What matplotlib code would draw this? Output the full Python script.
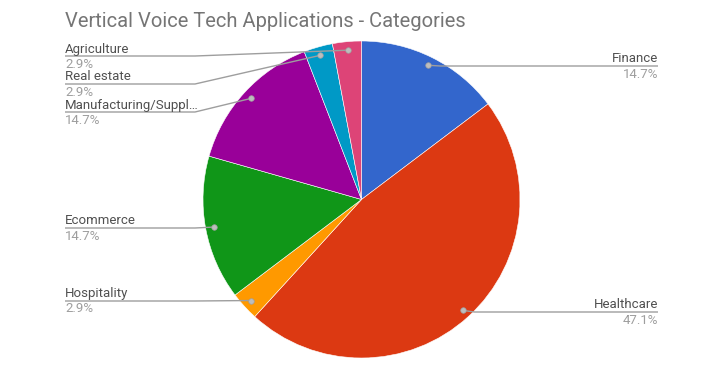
import numpy as np
import matplotlib
matplotlib.use("Agg")
import matplotlib.pyplot as plt

plt.rcParams["font.family"] = ["Roboto", "DejaVu Sans"]

# data: counts per category, clockwise from 12 o'clock
categories = ["Finance", "Healthcare", "Hospitality", "Ecommerce",
              "Manufacturing/Suppl…", "Real estate", "Agriculture"]
counts = [5, 16, 1, 5, 5, 1, 1]
colors = ["#3366cc", "#dc3912", "#ff9900", "#109618", "#990099", "#0099c6", "#dd4477"]

# label layout (pixel rows of each leader line, and which side the label sits on)
label_y = [66, 312, 301, 228, 112, 84, 56]
label_side = ["R", "R", "L", "L", "L", "L", "L"]

W, H = 712, 369
CX, CY, R = 361.5, 199.5, 158.5
TITLE_C, NAME_C, PCT_C, LINE_C = "#757575", "#505050", "#9e9e9e", "#9e9e9e"

fig = plt.figure(figsize=(W / 100, H / 100), dpi=100)
ax = fig.add_axes([0, 0, 1, 1])

# y axis is inverted (pixel rows), so counterclock=True draws clockwise on screen
wedges, _ = ax.pie(counts, colors=colors, startangle=-90, counterclock=True,
                   center=(CX, CY), radius=R,
                   wedgeprops=dict(edgecolor="white", linewidth=0.4))
ax.set_xlim(0, W)
ax.set_ylim(H, 0)
ax.set_aspect("equal")
ax.axis("off")

total = sum(counts)
for w, name, n, ly, side in zip(wedges, categories, counts, label_y, label_side):
    mid = np.deg2rad((w.theta1 + w.theta2) / 2)
    dx, dy = CX + 0.946 * R * np.cos(mid), CY + 0.946 * R * np.sin(mid)
    pct = f"{100 * n / total:.1f}%"
    if side == "L":
        tx, ha = 65, "left"
        xs = [tx, 195 if dx > 200 else dx, dx]
    else:
        tx, ha = 658, "right"
        xs = [tx, dx + 12, dx]
    ax.plot(xs, [ly, ly, dy], color=LINE_C, lw=1.0, solid_capstyle="butt", zorder=3)
    ax.plot(dx, dy, "o", ms=4, color="#bdbdbd", mec="#9e9e9e", mew=0.5, zorder=4)
    ax.text(tx, ly - 3.5, name, ha=ha, va="baseline", fontsize=9.5, color=NAME_C)
    ax.text(tx, ly + 11.5, pct, ha=ha, va="baseline", fontsize=9.5, color=PCT_C)

ax.text(65, 27, "Vertical Voice Tech Applications - Categories", ha="left", va="baseline",
        fontsize=14.5, color=TITLE_C)

fig.savefig("out.png", dpi=100, facecolor="white")
